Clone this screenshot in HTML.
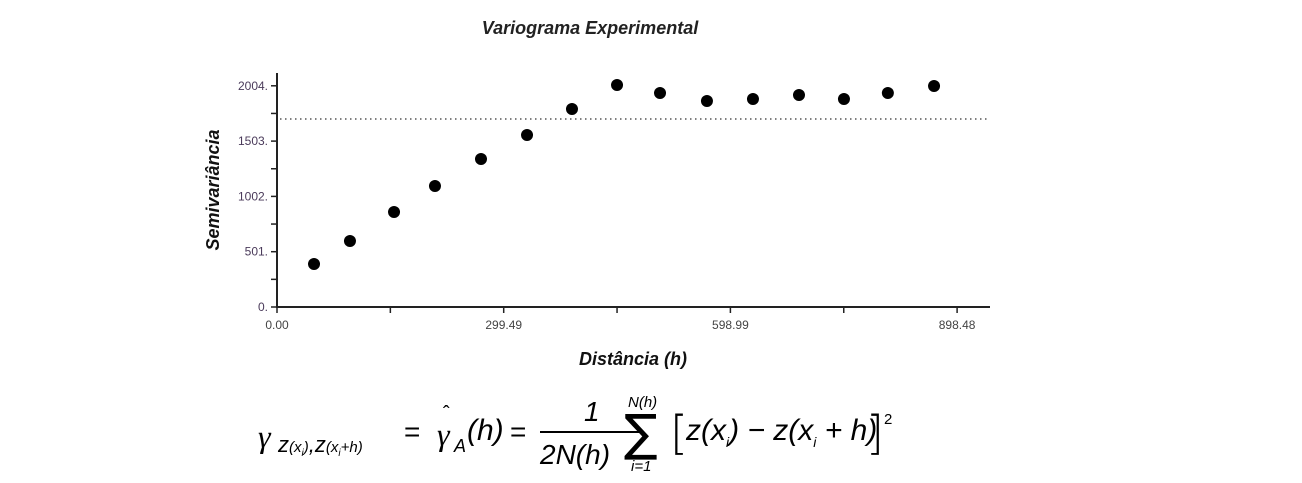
<!DOCTYPE html>
<html><head><meta charset="utf-8"><style>
body{margin:0;background:#fff;width:1302px;height:483px;overflow:hidden;position:relative;font-family:"Liberation Sans",Arial,sans-serif}
.f{position:absolute;font-family:"Liberation Sans",Arial,sans-serif;white-space:nowrap;color:#000;line-height:1}
</style></head><body>
<svg id="chart" width="1302" height="483" style="position:absolute;left:0;top:0">
<text x="590" y="34" text-anchor="middle" font-size="18" font-weight="bold" font-style="italic" fill="#222">Variograma Experimental</text>
<text x="633" y="365" text-anchor="middle" font-size="18" font-weight="bold" font-style="italic" fill="#111">Distância (h)</text>
<text transform="translate(219,190) rotate(-90)" text-anchor="middle" font-size="18" font-weight="bold" font-style="italic" fill="#111">Semivariância</text>
<g id="axes"></g><g id="marks"></g>
</svg>
<div>
<span class="f" style="left:258px;top:420px;font-size:32px;font-family:'Liberation Serif',serif;font-style:italic">γ</span>
<span class="f" style="left:278px;top:434px;font-size:22px;font-style:italic">z<span style="font-size:15px">(x<sub style="font-size:10px">i</sub>)</span>,z<span style="font-size:15px">(x<sub style="font-size:10px">i</sub>+h)</span></span>
<span class="f" style="left:404px;top:418px;font-size:28px">=</span>
<span class="f" style="left:437px;top:418px;font-size:32px;font-family:'Liberation Serif',serif;font-style:italic">γ</span>
<span class="f" style="left:443px;top:404px;font-size:20px">ˆ</span>
<span class="f" style="left:454px;top:437px;font-size:18px;font-style:italic">A</span>
<span class="f" style="left:467px;top:416px;font-size:30px;font-style:italic">(h)</span>
<span class="f" style="left:510px;top:418px;font-size:28px">=</span>
<span class="f" style="left:584px;top:398px;font-size:28px;font-style:italic">1</span>
<div style="position:absolute;left:540px;top:431px;width:103px;height:2px;background:#000"></div>
<span class="f" style="left:540px;top:441px;font-size:28px;font-style:italic">2N(h)</span>
<span class="f" style="left:628px;top:395px;font-size:15px;font-style:italic">N(h)</span>
<span class="f" style="left:624px;top:408px;font-size:50px;font-family:'DejaVu Sans',sans-serif">∑</span>
<span class="f" style="left:631px;top:459px;font-size:15px;font-style:italic">i=1</span>
<span class="f" style="left:670px;top:410px;font-size:46px;font-family:'DejaVu Sans',sans-serif;font-weight:300">[</span>
<span class="f" style="left:686px;top:416px;font-size:30px;font-style:italic">z(x<sub style="font-size:14px">i</sub>) − z(x<sub style="font-size:14px">i</sub> + h)</span>
<span class="f" style="left:866px;top:410px;font-size:46px;font-family:'DejaVu Sans',sans-serif;font-weight:300">]</span>
<span class="f" style="left:884px;top:412px;font-size:15px">2</span>
</div>
<script>
const yTicks=[0,501,1002,1503,2004];
const yLabels=["0.","501.","1002.","1503.","2004."];
const xTicks=[0,299.49,598.99,898.48];
const xLabels=["0.00","299.49","598.99","898.48"];
const lagDist=[48.9,96.4,154.6,208.7,269.5,330.3,389.7,449.2,506,568,628.8,689.6,749,807,868];
const semivar=[390,598,861,1096,1341,1558,1794,2011,1939,1866,1884,1921,1884,1939,2002];
const sill=[1703];
const NS="http://www.w3.org/2000/svg";
const X=v=>277+v*(226.7/299.49), Y=v=>307-v*(55.3/501);
const ax=document.getElementById('axes'), mk=document.getElementById('marks');
function mkEl(t,a,p){const e=document.createElementNS(NS,t);for(const k in a)e.setAttribute(k,a[k]);p.appendChild(e);return e;}
let l=mkEl('line',{x1:277,y1:73,x2:277,y2:308,stroke:'#222','stroke-width':2},ax);


l=mkEl('line',{x1:276,y1:307,x2:990,y2:307,stroke:'#222','stroke-width':2},ax);


for(let v=0;v<=yTicks[yTicks.length-1]+1;v+=250.5){mkEl('line',{x1:271,y1:Y(v),x2:277,y2:Y(v),stroke:'#222','stroke-width':1.5},ax);}
for(let v=0;v<=xTicks[xTicks.length-1]+1;v+=149.745){mkEl('line',{x1:X(v),y1:307,x2:X(v),y2:313,stroke:'#222','stroke-width':1.5},ax);}
yTicks.forEach((v,i)=>{const t=mkEl('text',{x:268,y:Y(v)+4,'text-anchor':'end','font-size':12,fill:'#4a3a5a'},ax);t.textContent=yLabels[i];

});
xTicks.forEach((v,i)=>{const t=mkEl('text',{x:X(v),y:329,'text-anchor':'middle','font-size':12,fill:'#444'},ax);t.textContent=xLabels[i];

});
l=mkEl('line',{x1:280,y1:Y(sill[0]),x2:990,y2:Y(sill[0]),stroke:'#333','stroke-width':1.3,'stroke-dasharray':'1.5 3.5'},mk);


lagDist.forEach((d,i)=>{const c=mkEl('circle',{cx:X(d),cy:Y(semivar[i]),r:6,fill:'#000'},mk);

});
</script>
</body></html>
